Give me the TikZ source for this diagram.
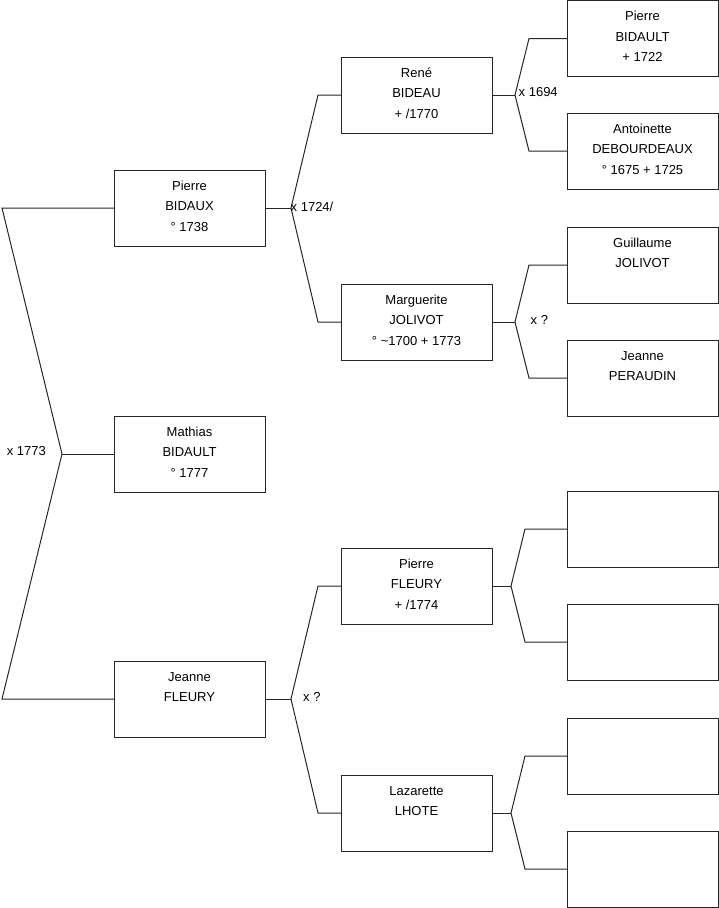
\documentclass[tikz,border=0pt]{standalone}
\usepackage{fontspec}
\setmainfont{Liberation Sans}
\newcommand{\pbox}[1]{\begin{minipage}[c][76pt][t]{151pt}\centering\fontsize{13}{20.5}\selectfont\rule{0pt}{20pt}#1\end{minipage}}
\begin{document}
\begin{tikzpicture}[x=1pt,y=-1pt,
  person/.style={draw=black!85,line width=1pt,inner sep=0pt,outer sep=0pt},
  link/.style={draw=black!85,line width=1pt},
  marr/.style={inner sep=0pt,font=\fontsize{13}{15}\selectfont}]
\useasboundingbox (0,0) rectangle (719,908);
% level 1
\node[person] (pb) at (189.5,208) {\pbox{Pierre\\BIDAUX\\° 1738}};
\node[person] (mb) at (189.5,454) {\pbox{Mathias\\BIDAULT\\° 1777}};
\node[person] (jf) at (189.5,699) {\pbox{Jeanne\\FLEURY}};
% level 2
\node[person] (rb) at (416.5,95) {\pbox{René\\BIDEAU\\ + /1770}};
\node[person] (mj) at (416.5,322) {\pbox{Marguerite\\JOLIVOT\\° \textasciitilde1700 + 1773}};
\node[person] (pf) at (416.5,586) {\pbox{Pierre\\FLEURY\\ + /1774}};
\node[person] (lh) at (416.5,813) {\pbox{Lazarette\\LHOTE}};
% level 3
\node[person] (g1) at (642.5,38.5) {\pbox{Pierre\\BIDAULT\\ + 1722}};
\node[person] (g2) at (642.5,151) {\pbox{Antoinette\\DEBOURDEAUX\\° 1675 + 1725}};
\node[person] (g3) at (642.5,265) {\pbox{Guillaume\\JOLIVOT}};
\node[person] (g4) at (642.5,378) {\pbox{Jeanne\\PERAUDIN}};
\node[person] (g5) at (642.5,529) {\pbox{}};
\node[person] (g6) at (642.5,642) {\pbox{}};
\node[person] (g7) at (642.5,756) {\pbox{}};
\node[person] (g8) at (642.5,869) {\pbox{}};
% junction points
\coordinate (a1) at (62,454);
\coordinate (l1) at (2,208);
\coordinate (l2) at (2,699);
\coordinate (a2) at (291,208);
\coordinate (a3) at (515,95);
\coordinate (a4) at (515,322);
\coordinate (a5) at (291,699);
\coordinate (a6) at (511,586);
\coordinate (a7) at (511,813);
% connectors
\draw[link] (pb.west) -- (l1) -- (a1) -- (l2) -- (jf.west);
\draw[link] (a1) -- (mb.west);
\draw[link] (pb.east) -- (a2);
\draw[link] (rb.west) -- ([xshift=-23pt]rb.west) -- (a2) -- ([xshift=-23pt]mj.west) -- (mj.west);
\draw[link] (jf.east) -- (a5);
\draw[link] (pf.west) -- ([xshift=-23pt]pf.west) -- (a5) -- ([xshift=-23pt]lh.west) -- (lh.west);
\draw[link] (rb.east) -- (a3);
\draw[link] (g1.west) -- ([xshift=-38pt]g1.west) -- (a3) -- ([xshift=-38pt]g2.west) -- (g2.west);
\draw[link] (mj.east) -- (a4);
\draw[link] (g3.west) -- ([xshift=-38pt]g3.west) -- (a4) -- ([xshift=-38pt]g4.west) -- (g4.west);
\draw[link] (pf.east) -- (a6);
\draw[link] (g5.west) -- ([xshift=-42pt]g5.west) -- (a6) -- ([xshift=-42pt]g6.west) -- (g6.west);
\draw[link] (lh.east) -- (a7);
\draw[link] (g7.west) -- ([xshift=-42pt]g7.west) -- (a7) -- ([xshift=-42pt]g8.west) -- (g8.west);
% marriage labels
\node[marr,anchor=east] (m1) at (46,451) {x 1773};
\node[marr,anchor=west] (m2) at (290.5,207) {x 1724/};
\node[marr,anchor=west] (m3) at (518.5,92) {x 1694};
\node[marr,anchor=west] (m4) at (530.5,320) {x ?};
\node[marr,anchor=west] (m5) at (303,697) {x ?};
\end{tikzpicture}
\end{document}
